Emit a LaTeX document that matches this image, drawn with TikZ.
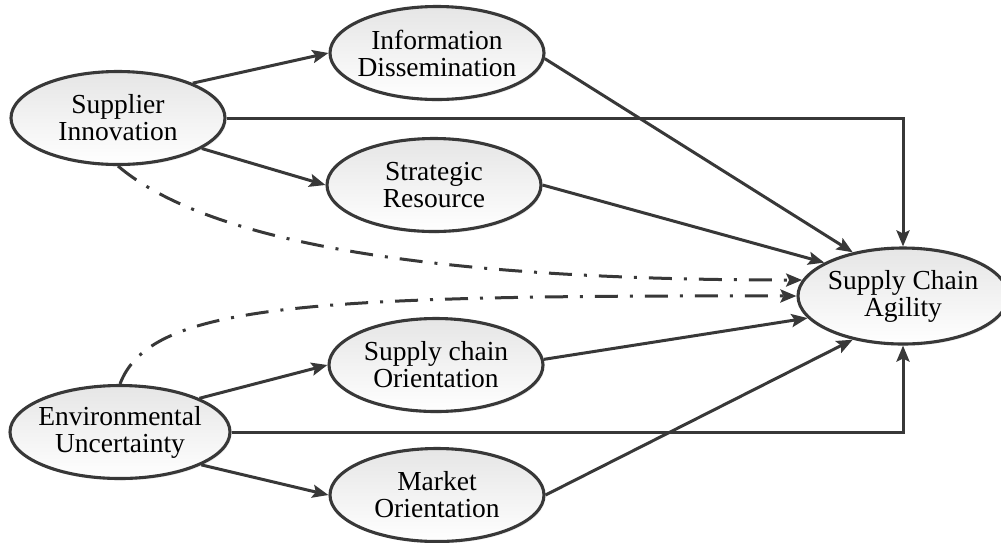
\documentclass[tikz,border=0pt]{standalone}
\usepackage{fontspec}
\setmainfont{Liberation Serif}
\usetikzlibrary{arrows.meta,shapes.geometric,shadows}
\definecolor{ink}{HTML}{383838}
\begin{document}
\begin{tikzpicture}[x=1pt,y=-1pt,
  construct/.style={ellipse, draw=ink, line width=3.1pt,
    top color=black!10, bottom color=white,
    drop shadow={opacity=0.12, shadow xshift=1.5pt, shadow yshift=-2pt},
    minimum width=214pt, minimum height=93pt, inner sep=0pt, inner xsep=-14pt,
    align=center, font=\fontsize{27.5}{27}\selectfont, text=black},
  link/.style={draw=ink, line width=3pt,
    -{Stealth[length=16pt,width=13pt,inset=3pt]}},
  moderate/.style={link, dash pattern=on 23pt off 12pt on 3pt off 12pt}]
\useasboundingbox (0,0) rectangle (1001,542);

% constructs
\node[construct] (si)  at (118,118) {Supplier\\Innovation};
\node[construct] (id)  at (437,53)  {Information\\Dissemination};
\node[construct] (sr)  at (434,185) {Strategic\\Resource};
\node[construct] (sco) at (436,365) {Supply chain\\Orientation};
\node[construct] (mo)  at (437,495) {Market\\Orientation};
\node[construct, minimum width=220pt] (eu) at (120,432) {Environmental\\Uncertainty};
\node[construct, minimum width=210pt, minimum height=96pt] (sca) at (903,296) {Supply Chain\\Agility};

% mediated paths
\draw[link] (si.25) -- (id.west);
\draw[link] (si.-20) -- (sr.west);
\draw[link] (id.-3) -- (sca.139);
\draw[link] (sr.east) -- (sca.157);
\draw[link] (eu.23) -- (sco.west);
\draw[link] (eu.-22) -- (mo.west);
\draw[link] (sco.3) -- (sca.193);
\draw[link] (mo.east) -- (sca.221);

% direct paths
\draw[link] (si.east) -| (sca.north);
\draw[link] (eu.east) -| (sca.south);

% moderating paths
\draw[moderate] (si.south) .. controls (205,240) and (420,280) .. (sca.171);
\draw[moderate] (eu.north) .. controls (150,305) and (300,295) .. (sca.west);
\end{tikzpicture}
\end{document}
